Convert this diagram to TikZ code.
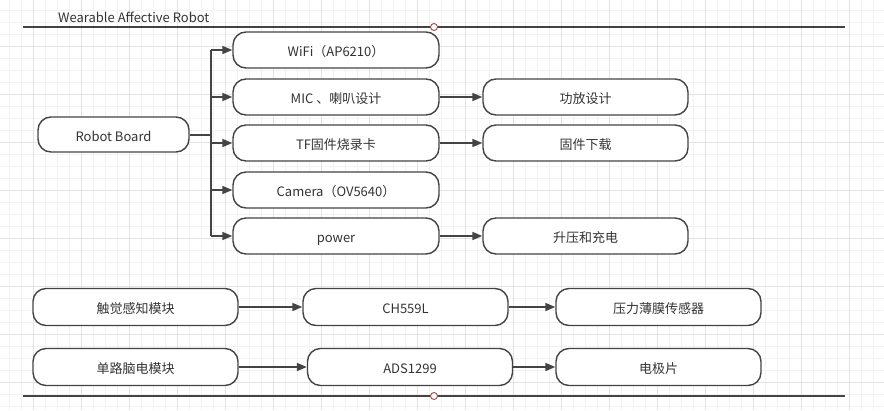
\documentclass[tikz,border=0pt]{standalone}
\usepackage{fontspec}
\setmainfont{Noto Sans CJK SC}
\usetikzlibrary{arrows.meta,positioning}
\definecolor{linegray}{HTML}{444444}
\definecolor{textgray}{HTML}{333333}
\definecolor{gridminor}{HTML}{F2F2F2}
\definecolor{gridmajor}{HTML}{E3E3E3}
\definecolor{pinred}{HTML}{A84848}
\tikzset{
  block/.style={draw=linegray, line width=1.4pt, fill=white, rounded corners=13pt,
    minimum width=205pt, minimum height=36pt, inner sep=0pt,
    text height=13pt, text depth=0pt,
    text=textgray, font=\fontsize{13pt}{15pt}\selectfont},
  link/.style={draw=linegray, line width=1.6pt},
  arr/.style={link, -{Triangle[length=10pt,width=8pt]}},
  pin/.style={circle, draw=pinred, fill=white, line width=0.9pt, minimum size=7pt, inner sep=0pt}
}
\begin{document}
\begin{tikzpicture}[x=1pt, y=-1pt]
    \useasboundingbox (0,0) rectangle (884,410);
    % Draw grid
    \foreach \gx in {9.3,21.3,...,884} \draw[gridminor, line width=0.8pt] (\gx,0) -- (\gx,410);
    \foreach \gy in {10,22,...,410} \draw[gridminor, line width=0.8pt] (0,\gy) -- (884,\gy);
    \foreach \gx in {33.3,81.3,...,884} \draw[gridmajor, line width=0.8pt] (\gx,0) -- (\gx,410);
    \foreach \gy in {46,94,...,410} \draw[gridmajor, line width=0.8pt] (0,\gy) -- (884,\gy);

    % Draw frame lines
    \coordinate (topL) at (23,27);
    \coordinate (topR) at (845,27);
    \coordinate (botL) at (23,396);
    \coordinate (botR) at (845,396);
    \draw[link] (topL) -- (topR);
    \draw[link] (botL) -- (botR);
    \node[pin] (topPin) at (434,27) {};
    \node[pin] (botPin) at (434,396) {};
    \node[anchor=base west, text=textgray, font=\fontsize{13pt}{15pt}\selectfont, inner sep=0pt] (title) at (58,22.5) {Wearable Affective Robot};

    % Draw board and its modules
    \node[block, minimum width=151pt, minimum height=35pt] (board) at (113.5,134.5) {Robot Board};
    \node[block, minimum width=206pt] (wifi) at (336,50) {WiFi（AP6210）};
    \node[block, minimum width=206pt] (mic) at (336,97) {MIC 、喇叭设计};
    \node[block, minimum width=206pt] (tf) at (336,143) {TF固件烧录卡};
    \node[block, minimum width=206pt] (camera) at (336,190) {Camera（OV5640）};
    \node[block, minimum width=206pt] (power) at (336,236) {power};
    \node[block] (amp) at (585.5,97) {功放设计};
    \node[block] (firmware) at (585.5,143) {固件下载};
    \node[block] (charge) at (585.5,236) {升压和充电};

    % Draw bus from board
    \coordinate (bus) at (211,134.5);
    \draw[link, line width=2pt] (board.east) -- (bus);
    \draw[link, line width=2pt] (bus |- wifi.west) -- (bus |- power.west);
    \foreach \mod in {wifi,mic,tf,camera,power}
        \draw[arr] (bus |- \mod.west) -- (\mod.west);
    \draw[arr] (mic) -- (amp);
    \draw[arr] (tf) -- (firmware);
    \draw[arr] (power) -- (charge);

    % Draw sensor rows
    \node[block, minimum height=37pt] (touch) at (135.5,307) {触觉感知模块};
    \node[block, minimum height=37pt] (ch559) at (405.5,307) {CH559L};
    \node[block, minimum height=37pt] (film) at (658.5,307) {压力薄膜传感器};
    \node[block, minimum height=37pt] (eeg) at (135.5,367) {单路脑电模块};
    \node[block, minimum height=37pt] (ads) at (410,367) {ADS1299};
    \node[block, minimum height=37pt] (electrode) at (658.5,367) {电极片};
    \draw[arr] (touch) -- (ch559);
    \draw[arr] (ch559) -- (film);
    \draw[arr] (eeg) -- (ads);
    \draw[arr] (ads) -- (electrode);
\end{tikzpicture}
\end{document}
